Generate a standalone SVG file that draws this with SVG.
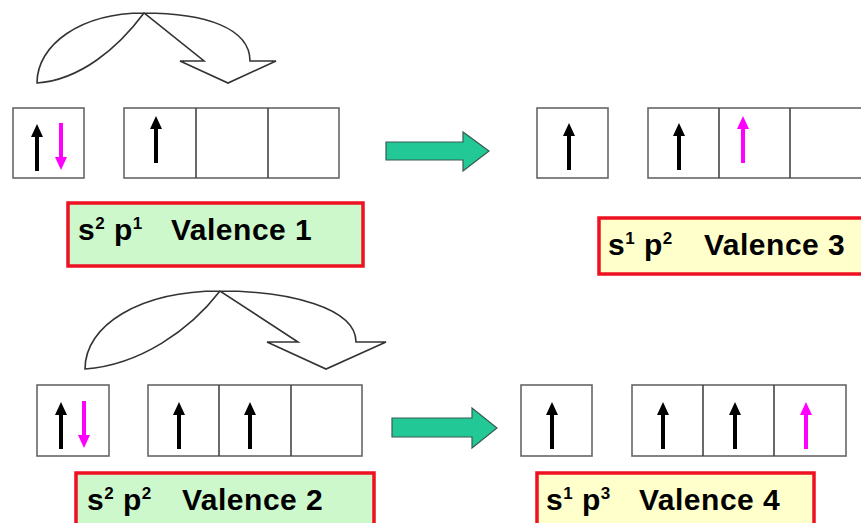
<svg xmlns="http://www.w3.org/2000/svg" xmlns:xlink="http://www.w3.org/1999/xlink" width="861" height="523" viewBox="0 0 861 523">
  <style>
    .cell { fill: #ffffff; stroke: #666666; stroke-width: 1.6; }
    .div { stroke: #444444; stroke-width: 1.6; }
    .curve { fill: none; stroke: #333333; stroke-width: 1.6; stroke-linejoin: miter; }
    .go { fill: #22c896; stroke: #3a5a50; stroke-width: 1.2; }
    .lblA { fill: #ccf8cc; stroke: #ee1122; stroke-width: 3.5; }
    .lblB { fill: #ffffcc; stroke: #ee1122; stroke-width: 3.5; }
    .t { font-family: "Liberation Sans", Arial, sans-serif; font-weight: bold; font-size: 30px; fill: #000000; letter-spacing: 0.5px; }
    .sup { font-size: 17px; }
    .blk { fill: #000000; }
    .mag { fill: #ff00ff; }
  </style>
  <defs>
    <!-- electron spin arrow, tip at origin, pointing up -->
    <polygon id="spin" points="0,0 6,13 2,13 2,47 -2,47 -2,13 -6,13"/>
  </defs>

  <rect width="861" height="523" fill="#ffffff"/>

  <!-- promotion arrows and transition arrows -->
  <g id="connectors">
    <path class="curve" d="M37,83 C37,45 80,13 144,13 C205,13 250,28 250,61 L276,61 L228,83 L180,61 L204,61 L144,13 C118,48 80,80 37,83 Z"/>
    <path class="curve" d="M85,369 C85,325 140,291 220,291 C290,291 356,308 356,342 L386,342 L326,369 L267,342 L298,342 L220,291 C190,330 140,365 85,369 Z"/>
    <polygon class="go" points="386,142 463,142 463,132 489,151 463,171 463,160 386,160"/>
    <polygon class="go" points="392,418 472,418 472,408 497,428 472,448 472,437 392,437"/>
  </g>

  <!-- ground state s2 p1 -->
  <g id="ground1">
    <rect class="cell" x="13" y="108" width="71" height="70"/>
    <use href="#spin" xlink:href="#spin" class="blk" transform="translate(37,124)"/>
    <use href="#spin" xlink:href="#spin" class="mag" transform="translate(61,170) rotate(180)"/>
    <rect class="cell" x="124" y="108" width="215" height="70"/>
    <line class="div" x1="196" y1="108" x2="196" y2="178"/>
    <line class="div" x1="268" y1="108" x2="268" y2="178"/>
    <use href="#spin" xlink:href="#spin" class="blk" transform="translate(156,116)"/>
  </g>

  <!-- excited state s1 p2 -->
  <g id="excited1">
    <rect class="cell" x="537" y="108" width="71" height="70"/>
    <use href="#spin" xlink:href="#spin" class="blk" transform="translate(569,123)"/>
    <rect class="cell" x="648" y="108" width="216" height="70"/>
    <line class="div" x1="719" y1="108" x2="719" y2="178"/>
    <line class="div" x1="790" y1="108" x2="790" y2="178"/>
    <use href="#spin" xlink:href="#spin" class="blk" transform="translate(679,123)"/>
    <use href="#spin" xlink:href="#spin" class="mag" transform="translate(743,116)"/>
  </g>

  <!-- ground state s2 p2 -->
  <g id="ground2">
    <rect class="cell" x="37" y="385" width="72" height="71"/>
    <use href="#spin" xlink:href="#spin" class="blk" transform="translate(61,402)"/>
    <use href="#spin" xlink:href="#spin" class="mag" transform="translate(84,448) rotate(180)"/>
    <rect class="cell" x="148" y="385" width="214" height="71"/>
    <line class="div" x1="219" y1="385" x2="219" y2="456"/>
    <line class="div" x1="291" y1="385" x2="291" y2="456"/>
    <use href="#spin" xlink:href="#spin" class="blk" transform="translate(179,402)"/>
    <use href="#spin" xlink:href="#spin" class="blk" transform="translate(250,402)"/>
  </g>

  <!-- excited state s1 p3 -->
  <g id="excited2">
    <rect class="cell" x="521" y="385" width="71" height="71"/>
    <use href="#spin" xlink:href="#spin" class="blk" transform="translate(552,402)"/>
    <rect class="cell" x="632" y="385" width="214" height="71"/>
    <line class="div" x1="703" y1="385" x2="703" y2="456"/>
    <line class="div" x1="774" y1="385" x2="774" y2="456"/>
    <use href="#spin" xlink:href="#spin" class="blk" transform="translate(663,402)"/>
    <use href="#spin" xlink:href="#spin" class="blk" transform="translate(735,402)"/>
    <use href="#spin" xlink:href="#spin" class="mag" transform="translate(806,402)"/>
  </g>

  <!-- configuration labels -->
  <g id="label1">
    <rect class="lblA" x="68" y="203" width="295" height="63"/>
    <text class="t" x="78" y="240">s<tspan class="sup" dy="-11">2</tspan><tspan dy="11"> p</tspan><tspan class="sup" dy="-11">1</tspan><tspan x="171" dy="11">Valence 1</tspan></text>
  </g>
  <g id="label3">
    <rect class="lblB" x="599" y="218" width="270" height="56"/>
    <text class="t" x="608" y="255">s<tspan class="sup" dy="-11">1</tspan><tspan dy="11"> p</tspan><tspan class="sup" dy="-11">2</tspan><tspan x="704" dy="11">Valence 3</tspan></text>
  </g>
  <g id="label2">
    <rect class="lblA" x="76" y="473" width="298" height="60"/>
    <text class="t" x="87" y="510">s<tspan class="sup" dy="-11">2</tspan><tspan dy="11"> p</tspan><tspan class="sup" dy="-11">2</tspan><tspan x="182" dy="11">Valence 2</tspan></text>
  </g>
  <g id="label4">
    <rect class="lblB" x="537" y="473" width="277" height="60"/>
    <text class="t" x="546" y="510">s<tspan class="sup" dy="-11">1</tspan><tspan dy="11"> p</tspan><tspan class="sup" dy="-11">3</tspan><tspan x="639" dy="11">Valence 4</tspan></text>
  </g>
</svg>
